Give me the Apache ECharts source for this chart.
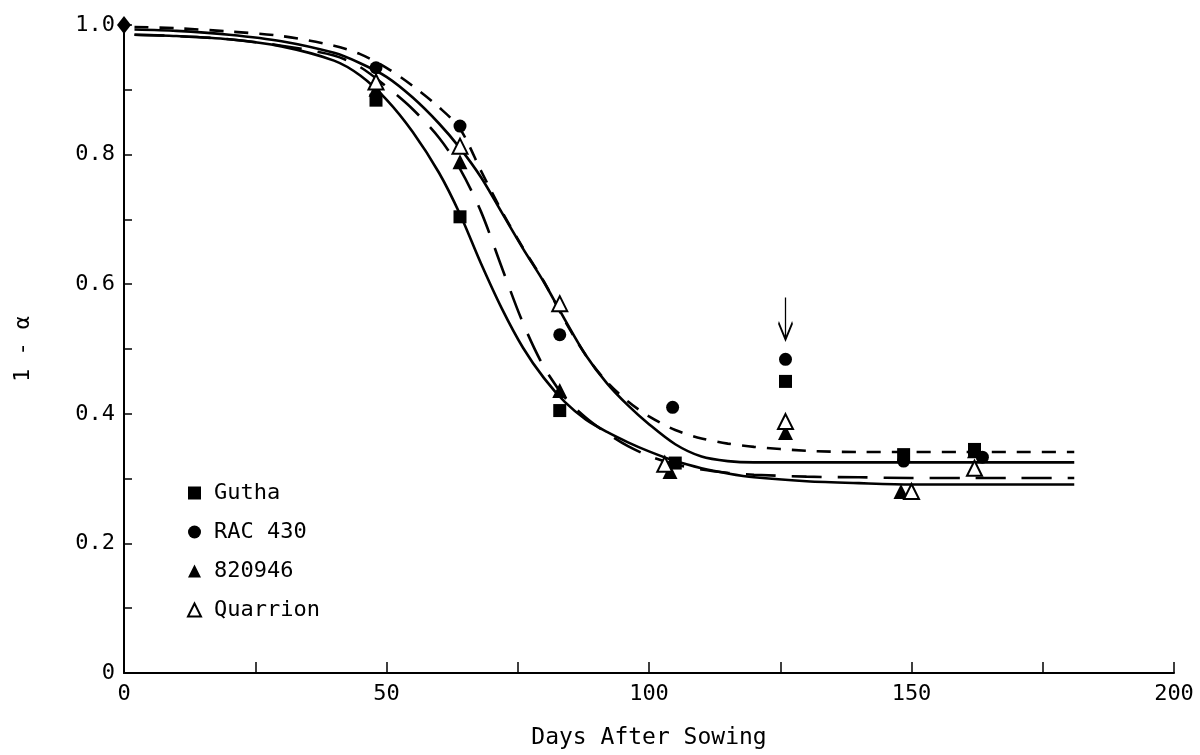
<!DOCTYPE html>
<html>
<head>
<meta charset="utf-8">
<script src="https://cdn.jsdelivr.net/npm/echarts@6/dist/echarts.min.js"></script>
<style>
html,body{margin:0;padding:0;background:#fff;}
#chart{width:1200px;height:755px;}
</style>
</head>
<body>
<div id="chart"></div>
<script>
// ---- data ----
var seriesNames = ['Gutha', 'RAC 430', '820946', 'Quarrion'];
var xTickLabels = ['0', '50', '100', '150', '200'];
var yTickLabels = ['0', '0.2', '0.4', '0.6', '0.8', '1.0'];

// observed points [day, 1 - alpha]
var guthaPts    = [[48, 0.884], [64, 0.704], [83, 0.405], [105, 0.324], [126, 0.450], [148.5, 0.337], [162, 0.345]];
var rac430Pts   = [[48, 0.934], [64, 0.844], [83, 0.522], [104.5, 0.410], [126, 0.484], [148.5, 0.327], [163.5, 0.333]];
var l820946Pts  = [[48, 0.901], [64, 0.789], [83, 0.436], [104, 0.311], [126, 0.371], [148, 0.280], [162, 0.343]];
var quarrionPts = [[48, 0.912], [64, 0.813], [83, 0.570], [103, 0.322], [126, 0.388], [150, 0.280], [162, 0.316]];
var originPt    = [[0, 1.0]];
var arrowPt     = [[126, 0.547]];

// fitted curves
var curveDays     = [2, 10, 20, 30, 40, 45, 50, 55, 60, 64, 68, 72, 76, 80, 84, 88, 92, 96, 100, 105, 110, 115, 120, 130, 140, 150, 160, 170, 181];
var guthaFit      = [0.985, 0.983, 0.978, 0.967, 0.945, 0.922, 0.885, 0.835, 0.772, 0.708, 0.632, 0.562, 0.502, 0.455, 0.418, 0.391, 0.372, 0.356, 0.342, 0.327, 0.316, 0.308, 0.302, 0.296, 0.293, 0.291, 0.291, 0.291, 0.291];
var rac430Fit     = [0.997, 0.995, 0.990, 0.983, 0.968, 0.955, 0.934, 0.906, 0.873, 0.840, 0.775, 0.712, 0.656, 0.604, 0.543, 0.490, 0.449, 0.419, 0.396, 0.375, 0.362, 0.354, 0.349, 0.343, 0.341, 0.341, 0.341, 0.341, 0.341];
var l820946Fit    = [0.985, 0.983, 0.978, 0.968, 0.953, 0.935, 0.905, 0.870, 0.826, 0.778, 0.712, 0.625, 0.540, 0.472, 0.425, 0.394, 0.370, 0.350, 0.335, 0.322, 0.314, 0.309, 0.306, 0.303, 0.302, 0.301, 0.301, 0.301, 0.301];
var quarrionFit   = [0.993, 0.991, 0.985, 0.975, 0.957, 0.941, 0.920, 0.888, 0.848, 0.810, 0.765, 0.710, 0.655, 0.603, 0.545, 0.490, 0.447, 0.413, 0.384, 0.353, 0.334, 0.327, 0.325, 0.325, 0.325, 0.325, 0.325, 0.325, 0.325];

function pairs(days, vals) {
  return days.map(function (d, i) { return [d, vals[i]]; });
}

var FONT = '"DejaVu Sans Mono", "Liberation Mono", monospace';
var chart = echarts.init(document.getElementById('chart'), null, {renderer: 'canvas'});

function fitLine(name, vals, dash) {
  return {
    name: name, type: 'line', data: pairs(curveDays, vals), smooth: 0.3,
    showSymbol: false, symbol: 'none', silent: true, z: 2,
    lineStyle: {color: '#000', width: 2.6, type: dash || 'solid', cap: 'butt'}
  };
}

function pts(name, data, symbol, size, style, z) {
  return {name: name, type: 'scatter', data: data, symbol: symbol, symbolSize: size, z: z || 5,
    itemStyle: Object.assign({opacity: 1}, style), emphasis: {disabled: true}};
}

var option = {
  animation: false,
  backgroundColor: '#fff',
  grid: {left: 124, right: 26, top: 25, bottom: 81, containLabel: false},
  legend: {
    data: seriesNames,
    orient: 'vertical', left: 182, top: 477,
    itemWidth: 13, itemHeight: 13, itemGap: 17,
    textStyle: {fontFamily: FONT, fontSize: 22, color: '#000', lineHeight: 22, padding: [0, 0, 0, 8]}
  },
  xAxis: {
    type: 'value', min: 0, max: 200, interval: 50,
    name: 'Days After Sowing', nameLocation: 'middle', nameGap: 54,
    nameTextStyle: {fontFamily: FONT, fontSize: 23, color: '#000'},
    axisLine: {show: true, onZero: false, lineStyle: {color: '#000', width: 2}},
    axisTick: {show: true, inside: true, length: 11, lineStyle: {color: '#000', width: 1.5}},
    minorTick: {show: true, splitNumber: 2, length: 11, lineStyle: {color: '#000', width: 1.5}},
    splitLine: {show: false}, minorSplitLine: {show: false},
    axisLabel: {
      fontFamily: FONT, fontSize: 22, color: '#000', margin: 10,
      formatter: function (v) { return xTickLabels[Math.round(v / 50)]; }
    }
  },
  yAxis: {
    type: 'value', min: 0, max: 1, interval: 0.2,
    name: '1 - α', nameLocation: 'middle', nameGap: 90, nameRotate: 90,
    nameTextStyle: {fontFamily: FONT, fontSize: 22, color: '#000'},
    axisLine: {show: true, onZero: false, lineStyle: {color: '#000', width: 2}},
    axisTick: {show: true, inside: true, length: 8, lineStyle: {color: '#000', width: 1.5}},
    minorTick: {show: true, splitNumber: 2, length: 8, lineStyle: {color: '#000', width: 1.5}},
    splitLine: {show: false}, minorSplitLine: {show: false},
    axisLabel: {
      fontFamily: FONT, fontSize: 22, color: '#000', margin: 9,
      formatter: function (v) { return yTickLabels[Math.round(v / 0.2)]; }
    }
  },
  series: [
    fitLine('Gutha fit', guthaFit),
    fitLine('RAC 430 fit', rac430Fit, [14, 11]),
    fitLine('820946 fit', l820946Fit, [30, 16]),
    fitLine('Quarrion fit', quarrionFit),
    pts('Gutha', guthaPts, 'rect', 13, {color: '#000'}),
    pts('RAC 430', rac430Pts, 'circle', 13, {color: '#000'}),
    pts('820946', l820946Pts, 'triangle', 15, {color: '#000'}),
    pts('Quarrion', quarrionPts, 'triangle', 15, {color: '#fff', borderColor: '#000', borderWidth: 2}, 6),
    pts('origin', originPt, 'diamond', [14, 18], {color: '#000'}, 6),
    {name: 'arrow', type: 'scatter', data: arrowPt,
     symbol: 'path://M7 0 L7 42 M0 25 L7 42 L14 25', symbolSize: [14, 42], symbolKeepAspect: false, z: 6,
     itemStyle: {color: 'rgba(0,0,0,0)', borderColor: '#000', borderWidth: 2.2, opacity: 1},
     emphasis: {disabled: true}}
  ]
};
chart.setOption(option);
</script>
</body>
</html>
